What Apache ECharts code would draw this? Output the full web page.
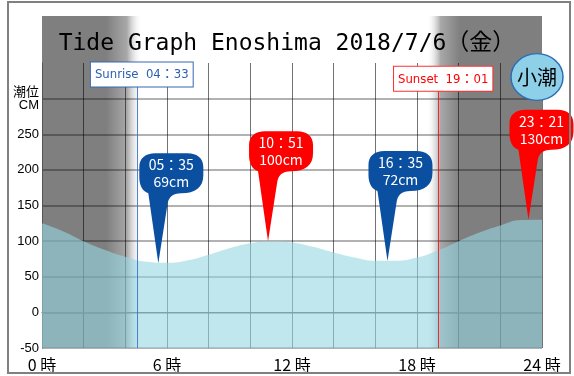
<!DOCTYPE html>
<html>
<head>
<meta charset="utf-8">
<script src="https://cdn.jsdelivr.net/npm/echarts@6/dist/echarts.min.js"></script>
<style>
  html, body { margin: 0; padding: 0; background: #fff; }
  #chart { width: 574px; height: 376px; }
</style>
</head>
<body>
<div id="chart"></div>
<script>
// tide level (cm), one point per hour
const hours = [0, 1, 2, 3, 4, 5, 6, 7, 8, 9, 10, 11, 12, 13, 14, 15, 16, 17, 18, 19, 20, 21, 22, 23, 24]
const tideLevels = [125, 114, 100, 88, 78, 71, 69.5, 73, 81, 90, 97, 100, 98, 92, 84, 77, 72.5, 72.5, 77, 87, 100, 112, 122, 129.5, 130]

// high / low water
const extremeHours = [5.583, 10.85, 16.583, 23.35]
const extremeTimes = ['05：35', '10：51', '16：35', '23：21']
const extremeLevels = [69, 100, 72, 130]
const extremeKinds = ['low', 'high', 'low', 'high']

const sunriseHour = 4.55
const sunriseText = 'Sunrise  04：33'
const sunsetHour = 19.017
const sunsetText = 'Sunset  19：01'

const hourLabels = [0, 6, 12, 18, 24]
const levelLabels = [-50, 0, 50, 100, 150, 200, 250]

const NIGHT = '#7f7f7f'
const pinPath = 'path://M19 110 L9 40 C3 38 0 32 0 24 L0 14 C0 5 6 0 16 0 L48 0 C58 0 64 5 64 14 L64 22 C64 34 56 40 42 40 C33 40 29 44 28 52 Z'

const chart = echarts.init(document.getElementById('chart'))

const pins = extremeHours.map((h, i) => ({
  name: extremeTimes[i],
  value: extremeLevels[i],
  coord: [h, extremeLevels[i]],
  itemStyle: { color: extremeKinds[i] === 'low' ? '#0b4fa0' : '#ff0000' }
}))

const sunLabel = (text, color, border) => ({
  show: true,
  position: 'start',
  distance: 0,
  offset: [5, 0],
  formatter: text,
  color: color,
  fontSize: 13,
  fontFamily: "'DejaVu Sans Condensed', 'Noto Sans CJK JP'",
  backgroundColor: '#fff',
  borderColor: border,
  borderWidth: 1,
  padding: [6, 4, 5, 4]
})

const option = {
  backgroundColor: '#fff',
  animation: false,
  title: {
    text: 'Tide Graph Enoshima 2018/7/6（金）',
    left: 'center',
    top: 28,
    textStyle: {
      fontFamily: "'DejaVu Sans Mono', 'Noto Sans CJK JP'",
      fontSize: 23,
      fontWeight: 'normal',
      color: '#000'
    }
  },
  graphic: [
    {
      type: 'rect',
      shape: { x: 8, y: 2, width: 562, height: 371 },
      style: { fill: 'none', stroke: '#808080', lineWidth: 2 },
      z: 100
    },
    {
      type: 'circle',
      x: 537, y: 77,
      scaleY: 0.9,
      shape: { cx: 0, cy: 0, r: 26 },
      style: { fill: '#8dd0e8', stroke: '#2d6db5', lineWidth: 1.5 },
      z: 100
    },
    {
      type: 'text',
      x: 537, y: 77,
      style: {
        text: '小潮',
        fontSize: 20,
        fontFamily: 'Noto Sans CJK JP',
        fill: '#000',
        align: 'center',
        verticalAlign: 'middle'
      },
      z: 101
    }
  ],
  grid: [
    { left: 42, right: 32, top: 16, bottom: 28 },
    { left: 42, right: 32, top: 63, bottom: 28 }
  ],
  xAxis: [
    { gridIndex: 0, type: 'value', min: 0, max: 24, show: false },
    {
      gridIndex: 1,
      type: 'value',
      min: 0,
      max: 24,
      interval: 2,
      z: 1.5,
      axisLine: { show: true, lineStyle: { color: '#555', width: 1 } },
      axisTick: { show: false },
      axisLabel: {
        fontSize: 16,
        color: '#000',
        margin: 9,
        fontFamily: "'Noto Sans CJK JP'",
        formatter: v => hourLabels.includes(v) ? v + ' 時' : ''
      },
      splitLine: { show: true, lineStyle: { color: 'rgba(0,0,0,0.55)', width: 1 } }
    }
  ],
  yAxis: [
    { gridIndex: 0, type: 'value', min: 0, max: 1, show: false },
    {
      gridIndex: 1,
      type: 'value',
      min: -50,
      max: 350,
      interval: 50,
      z: 1.5,
      axisLine: { show: true, lineStyle: { color: '#555', width: 1 } },
      axisTick: { show: false },
      axisLabel: {
        fontSize: 13,
        color: '#000',
        margin: 3,
        lineHeight: 13,
        showMaxLabel: false,
        fontFamily: "'Liberation Sans', 'Noto Sans CJK JP'",
        formatter: v => v === 300 ? '潮位\nCM' : (levelLabels.includes(v) ? String(v) : '')
      },
      splitLine: { show: true, showMaxLine: false, lineStyle: { color: 'rgba(0,0,0,0.3)', width: 2 } }
    }
  ],
  series: [
    {
      // night shading
      type: 'line',
      xAxisIndex: 0,
      yAxisIndex: 0,
      data: [],
      z: 0,
      silent: true,
      markArea: {
        silent: true,
        z: 0,
        data: [
          [
            {
              xAxis: 0,
              itemStyle: {
                color: new echarts.graphic.LinearGradient(0, 0, 1, 0, [
                  { offset: 0, color: NIGHT },
                  { offset: 0.64, color: NIGHT },
                  { offset: 0.85, color: '#a8a8a8' },
                  { offset: 1, color: 'rgba(255,255,255,0)' }
                ])
              }
            },
            { xAxis: sunriseHour + 0.25 }
          ],
          [
            {
              xAxis: sunsetHour - 0.55,
              itemStyle: {
                color: new echarts.graphic.LinearGradient(0, 0, 1, 0, [
                  { offset: 0, color: 'rgba(255,255,255,0)' },
                  { offset: 0.12, color: '#a8a8a8' },
                  { offset: 0.29, color: NIGHT },
                  { offset: 1, color: NIGHT }
                ])
              }
            },
            { xAxis: 24 }
          ]
        ]
      }
    },
    {
      name: 'tide',
      type: 'line',
      xAxisIndex: 1,
      yAxisIndex: 1,
      z: 3,
      smooth: true,
      symbol: 'none',
      lineStyle: { width: 0 },
      areaStyle: { color: 'rgba(150,213,227,0.6)', opacity: 1, origin: 'start' },
      data: hours.map((h, i) => [h, tideLevels[i]]),
      markLine: {
        silent: true,
        symbol: ['none', 'none'],
        data: [
          [
            {
              coord: [sunriseHour, 317],
              lineStyle: { color: 'rgba(50,110,210,0.85)', width: 1, type: 'solid' },
              label: sunLabel(sunriseText, '#2c5fae', '#3567b5')
            },
            { coord: [sunriseHour, -50] }
          ],
          [
            {
              coord: [sunsetHour, 311],
              lineStyle: { color: 'rgba(255,0,0,0.8)', width: 1, type: 'solid' },
              label: sunLabel(sunsetText, '#ff0000', '#ff3030')
            },
            { coord: [sunsetHour, -50] }
          ]
        ]
      },
      markPoint: {
        silent: true,
        symbol: pinPath,
        symbolSize: [64, 110],
        symbolOffset: [13, -55],
        label: {
          show: true,
          position: 'inside',
          offset: [0, -35],
          color: '#fff',
          fontSize: 14,
          lineHeight: 17,
          fontFamily: "'Noto Sans CJK JP'",
          formatter: p => p.name + '\n' + p.value + 'cm'
        },
        data: pins
      }
    }
  ]
}

chart.setOption(option)
</script>
</body>
</html>
